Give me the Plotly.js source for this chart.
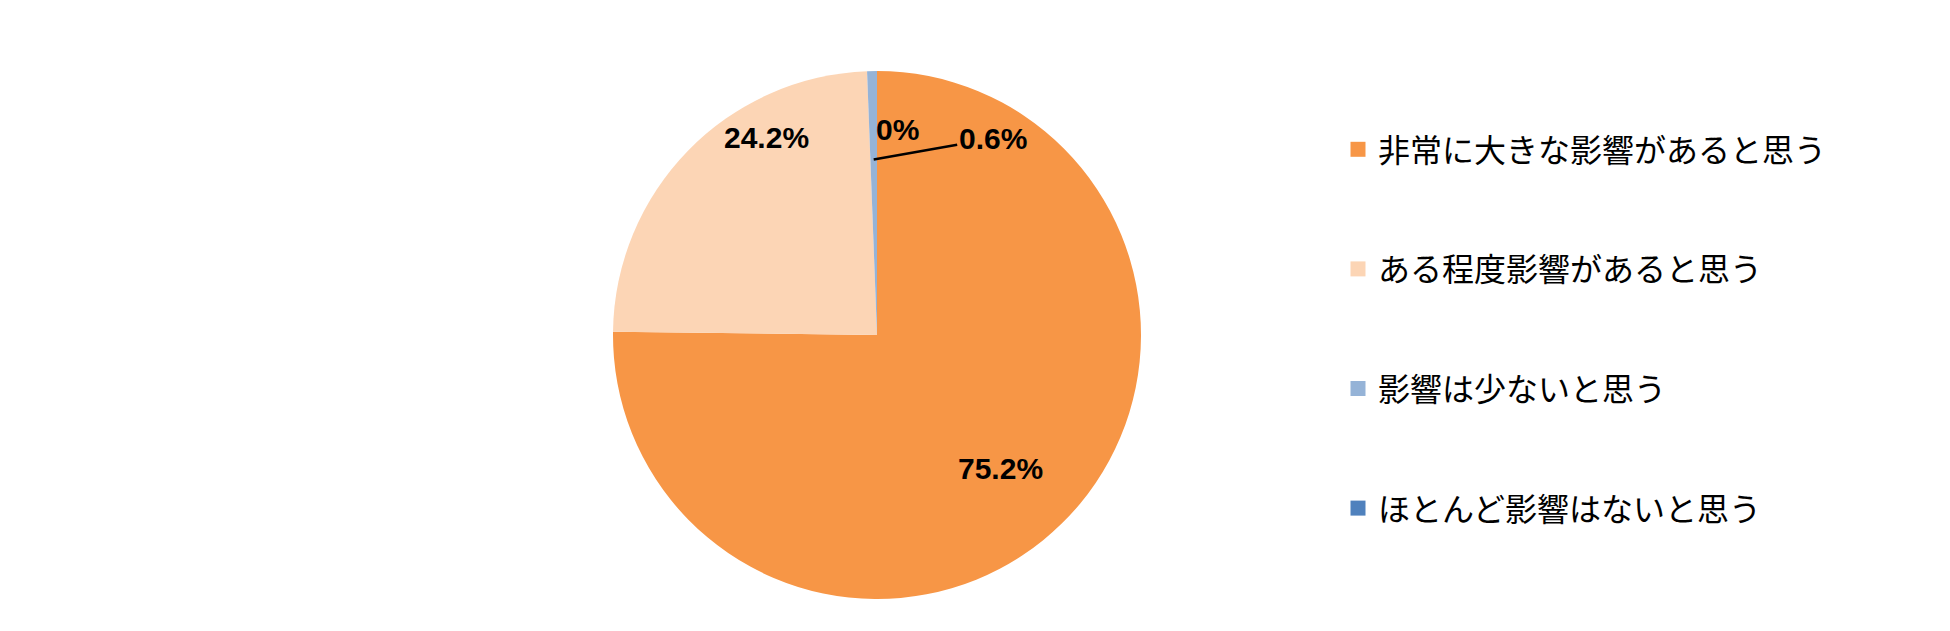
<!DOCTYPE html>
<html><head><meta charset="utf-8">
<script src="https://cdn.plot.ly/plotly-3.0.1.min.js"></script>
<style>html,body{margin:0;padding:0;background:#fff}#chart{width:1950px;height:631px}</style>
</head><body><div id="chart"></div>
<script>
const categories = ['非常に大きな影響があると思う','ある程度影響があると思う','影響は少ないと思う','ほとんど影響はないと思う'];
const values = [75.2, 24.2, 0.6, 0];
const pctLabels = ['75.2%','24.2%','0.6%','0%'];
const colors = ['#F79646','#FCD5B5','#95B3D7','#4F81BD'];

const W = 1950, H = 631;
const cx = 877, cy = 335, R = 264;
const dom = {x:[(cx-R)/W,(cx+R)/W], y:[1-(cy+R)/H, 1-(cy-R)/H]};
const labelFont = {family:'"Liberation Sans Narrow","Liberation Sans",Arial,sans-serif', size:30, color:'#000', weight:'bold'};

const traces = [{
  type:'pie', values:values, labels:categories,
  sort:false, direction:'clockwise', rotation:0,
  marker:{colors:colors, line:{width:0}},
  textinfo:'none',
  domain:dom, showlegend:false, hoverinfo:'label+percent'
}];
categories.forEach((c,i)=>{
  traces.push({type:'scatter', x:[null], y:[null], mode:'markers', name:c,
    legendgroup:'g'+i, marker:{symbol:'square', size:15, color:colors[i]}, hoverinfo:'skip'});
});

// label placement derived from slice geometry (position within slice, radial fraction)
const total = values.reduce((a,b)=>a+b,0);
const cum = []; values.reduce((a,v,i)=>{cum[i]=a; return a+v;},0);
function pt(frac, rf){ const a=frac*2*Math.PI; return [cx + R*rf*Math.sin(a), cy - R*rf*Math.cos(a)]; }
function sliceFrac(i, along){ return (cum[i] + values[i]*along)/total; }
const p0 = pt(sliceFrac(0,0.507), 0.69);
const p1 = pt(sliceFrac(1,0.69), 0.857);
const tip = pt(sliceFrac(2,0.5), 0.665);
const zero = pt(sliceFrac(3,0), 0.78);
const annotations = [
  {xref:'paper', yref:'paper', x:p0[0]/W, y:1-p0[1]/H, text:pctLabels[0], showarrow:false, font:labelFont, xanchor:'center', yanchor:'middle'},
  {xref:'paper', yref:'paper', x:p1[0]/W, y:1-p1[1]/H, text:pctLabels[1], showarrow:false, font:labelFont, xanchor:'center', yanchor:'middle'},
  {xref:'paper', yref:'paper', x:tip[0]/W, y:1-tip[1]/H, text:pctLabels[2], showarrow:true,
   arrowhead:0, arrowwidth:2.5, arrowcolor:'#000', ax:119, ay:-21, font:labelFont, xanchor:'center', yanchor:'middle'},
  {xref:'paper', yref:'paper', x:(zero[0]-3)/W, y:1-zero[1]/H, text:pctLabels[3], showarrow:false,
   font:labelFont, xanchor:'left', yanchor:'middle'}
];

const layout = {
  width:W, height:H, margin:{l:0,r:0,t:0,b:0},
  paper_bgcolor:'#fff', plot_bgcolor:'#fff',
  xaxis:{visible:false}, yaxis:{visible:false},
  showlegend:true,
  legend:{x:1338/W, y:1-122/H, xanchor:'left', yanchor:'top', tracegroupgap:75,
    font:{family:'"Noto Sans CJK JP","Noto Sans",sans-serif', size:32, color:'#000'},
    bgcolor:'rgba(0,0,0,0)'},
  annotations:annotations
};
Plotly.newPlot('chart', traces, layout, {displayModeBar:false, staticPlot:true});
</script></body></html>
